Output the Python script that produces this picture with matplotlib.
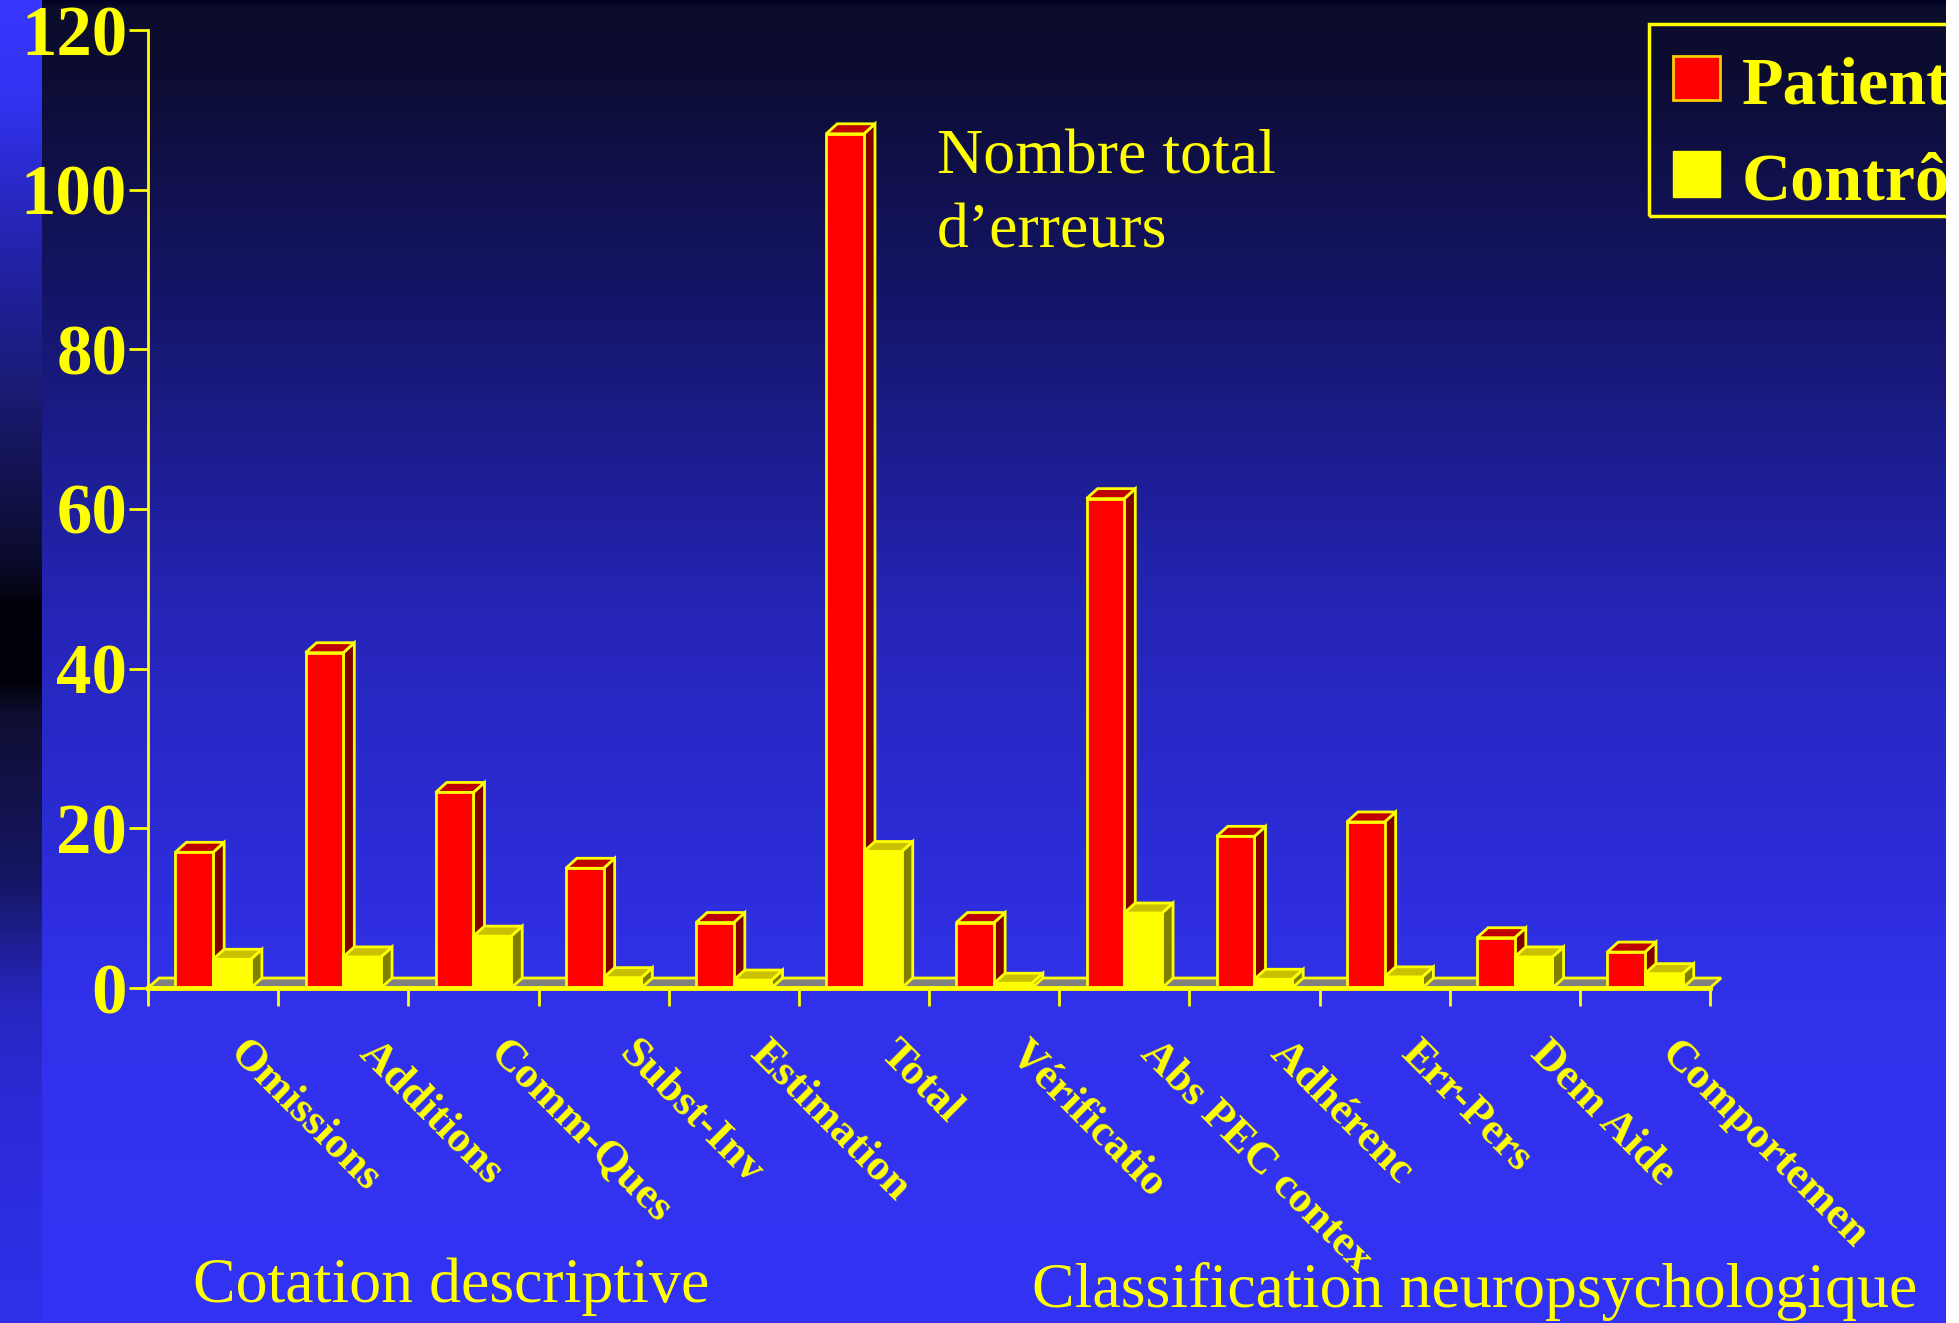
import numpy as np
import matplotlib
matplotlib.use('Agg')
import matplotlib.pyplot as plt
from matplotlib.patches import Polygon, Rectangle

plt.rcParams['font.family'] = ['Liberation Serif', 'DejaVu Serif']

# data
categories = ['Omissions', 'Additions', 'Comm-Ques', 'Subst-Inv', 'Estimation', 'Total',
              'Vérificatio', 'Abs PEC contex', 'Adhérenc', 'Err-Pers', 'Dem Aide', 'Comportemen']
patients = [17, 42, 24.5, 15, 8.2, 107, 8.2, 61.3, 19, 20.8, 6.3, 4.5]
controles = [3.6, 3.9, 6.5, 1.3, 1.0, 17.1, 0.6, 9.4, 1.1, 1.4, 3.9, 1.8]
yticks = [0, 20, 40, 60, 80, 100, 120]
series_names = ['Patients', 'Contrôles']

YEL = '#ffff00'
W, H = 1959, 1323

fig = plt.figure(figsize=(W / 100, H / 100), dpi=100)

# ---- background gradient
def grad(anchors):
    ys = [a[0] for a in anchors]
    cols = np.array([a[1] for a in anchors], dtype=float) / 255.
    rows = np.arange(H)
    return np.stack([np.interp(rows, ys, cols[:, k]) for k in range(3)], axis=1)

main = grad([(0, (0, 0, 35)), (8, (12, 12, 45)), (60, (12, 12, 48)), (300, (21, 21, 105)),
             (620, (37, 37, 185)), (1000, (49, 49, 235)), (1323, (51, 51, 245))])
strip = grad([(0, (55, 55, 255)), (100, (50, 50, 240)), (250, (35, 35, 170)), (400, (26, 26, 112)),
              (570, (10, 10, 40)), (605, (0, 0, 8)), (680, (0, 0, 8)), (715, (14, 14, 50)),
              (880, (22, 22, 100)), (1000, (38, 38, 190)), (1100, (43, 43, 215)), (1323, (48, 48, 235))])
img = np.repeat(main[:, None, :], W, axis=1)
img[:, :42, :] = strip[:, None, :]
img[:, 1946:, :] = 1.0

bg = fig.add_axes([0, 0, 1, 1])
bg.imshow(img, aspect='auto', interpolation='bilinear')
bg.axis('off')

# ---- plot axes
ax = fig.add_axes([148 / W, 1 - 988 / H, 1562 / W, 958 / H])
ax.patch.set_alpha(0)
n = len(categories)
ax.set_xlim(0, n)
ax.set_ylim(0, 120)

dx, dy = 0.085, 1.25
w = 0.29
x_red = 0.21

def bar3d(x0, h, front, top, side, z):
    kw = dict(edgecolor=YEL, lw=2, joinstyle='miter', zorder=z)
    ax.add_patch(Polygon([(x0 + w, 0), (x0 + w + dx, dy), (x0 + w + dx, h + dy), (x0 + w, h)],
                         facecolor=side, **kw))
    ax.add_patch(Polygon([(x0, h), (x0 + w, h), (x0 + w + dx, h + dy), (x0 + dx, h + dy)],
                         facecolor=top, **kw))
    ax.add_patch(Rectangle((x0, 0), w, h, facecolor=front, **kw))

# floor
ax.add_patch(Polygon([(0, 0), (n, 0), (n + dx, dy), (dx, dy)], facecolor='#808080',
                     edgecolor=YEL, lw=2, zorder=1, clip_on=False))

for i in range(n):
    bar3d(i + x_red, patients[i], '#ff0000', '#c00000', '#800000', 2)
    bar3d(i + x_red + w, controles[i], '#ffff00', '#c8c000', '#808000', 3)

for s in ['top', 'right']:
    ax.spines[s].set_visible(False)
ax.spines['left'].set_color(YEL)
ax.spines['left'].set_linewidth(2)
ax.spines['bottom'].set_color(YEL)
ax.spines['bottom'].set_linewidth(3.5)
ax.spines['bottom'].set_zorder(5)

ax.set_yticks(yticks)
ax.set_yticklabels([str(v) for v in yticks], fontsize=51, fontweight='bold', color=YEL)
ax.tick_params(axis='y', colors=YEL, length=14, width=2, pad=1)
ax.set_xticks(np.arange(n + 1))
ax.set_xticklabels([])
ax.tick_params(axis='x', colors=YEL, length=13, width=2)

for i, lab in enumerate(categories):
    ax.text(i + 0.78, -5.7, lab, rotation=-45, rotation_mode='anchor', ha='left', va='top',
            fontsize=32, fontweight='bold', color=YEL, clip_on=False)

# ---- annotations
fig.text(937 / W, 1 - 173 / H, 'Nombre total', fontsize=46, color=YEL, va='baseline')
fig.text(937 / W, 1 - 248 / H, 'd\u2019erreurs', fontsize=46, color=YEL, va='baseline')
fig.text(193 / W, 1 - 1302 / H, 'Cotation descriptive', fontsize=46, color=YEL, va='baseline')
fig.text(1032 / W, 1 - 1307 / H, 'Classification neuropsychologique', fontsize=46, color=YEL,
         va='baseline')

# ---- legend (cut by the right edge as in the picture)
fig.patches.append(Rectangle((1649 / W, 1 - 216 / H), 400 / W, 192 / H, transform=fig.transFigure,
                             facecolor='none', edgecolor=YEL, lw=2.5, zorder=5))
fig.patches.append(Rectangle((1673 / W, 1 - 100 / H), 47 / W, 44 / H, transform=fig.transFigure,
                             facecolor='#ff0000', edgecolor='#ffcc00', lw=2, zorder=5))
fig.patches.append(Rectangle((1673 / W, 1 - 197 / H), 47 / W, 46 / H, transform=fig.transFigure,
                             facecolor=YEL, edgecolor=YEL, lw=1, zorder=5))
fig.text(1742 / W, 1 - 103 / H, series_names[0], fontsize=49, fontweight='bold', color=YEL,
         va='baseline', zorder=5)
fig.text(1742 / W, 1 - 199 / H, series_names[1], fontsize=49, fontweight='bold', color=YEL,
         va='baseline', zorder=5)
fig.patches.append(Rectangle((1946 / W, 0), 13 / W, 1, transform=fig.transFigure,
                             facecolor='white', edgecolor='none', zorder=10))

fig.savefig('out.png', dpi=100)
